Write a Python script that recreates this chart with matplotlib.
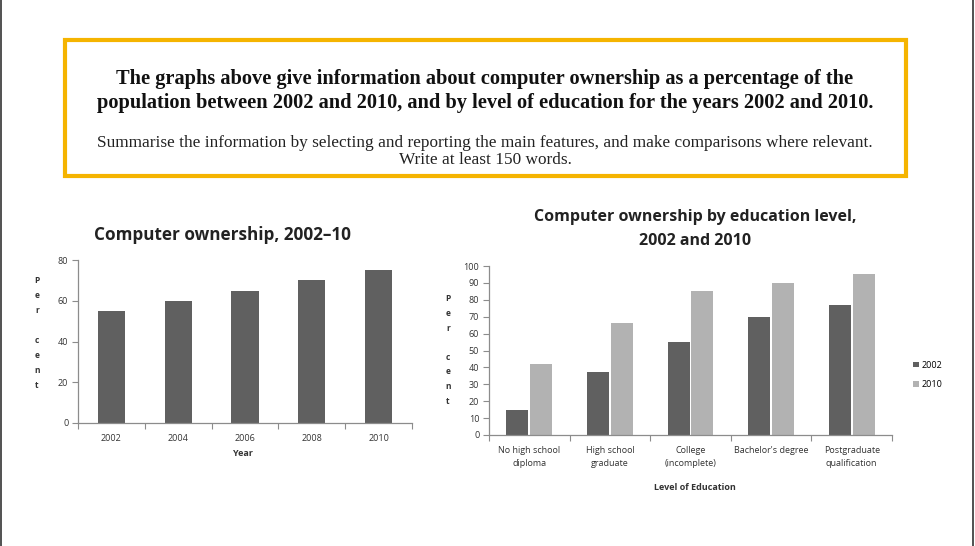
"""
Computer ownership charts (IELTS task sheet)
"""

import matplotlib.pyplot as plt
from matplotlib.patches import Rectangle
import numpy as np

years = ["2002", "2004", "2006", "2008", "2010"]
ownership = [55, 60, 65, 70, 75]

education_levels = [
    "No high school\ndiploma",
    "High school\ngraduate",
    "College\n(incomplete)",
    "Bachelor's degree",
    "Postgraduate\nqualification",
]
owners_2002 = [15, 37, 55, 70, 77]
owners_2010 = [42, 66, 85, 90, 95]

DARK = "#606060"
LIGHT = "#b2b2b2"
AXIS = "#8c8c8c"
TEXT = "#333333"
SANS = ["Open Sans", "DejaVu Sans"]
SERIF = ["Liberation Serif", "DejaVu Serif"]

W, H = 975, 546
fig = plt.figure(figsize=(W / 100, H / 100), dpi=100)
fig.patch.set_facecolor("white")


def fx(px):
    return px / W


def fy(py):
    return 1 - py / H


# task box
fig.patches.append(
    Rectangle((fx(65), fy(176)), fx(906) - fx(65), fy(40) - fy(176),
              transform=fig.transFigure, fill=False, edgecolor="#f5b400", linewidth=3)
)
fig.text(fx(485), fy(91),
         "The graphs above give information about computer ownership as a percentage of the\n"
         "population between 2002 and 2010, and by level of education for the years 2002 and 2010.",
         ha="center", va="center", fontsize=14.7, fontweight="bold", family=SERIF,
         color="#111111", linespacing=1.22)
fig.text(fx(485), fy(151.5),
         "Summarise the information by selecting and reporting the main features, and make comparisons where relevant.\n"
         "Write at least 150 words.",
         ha="center", va="center", fontsize=12.4, family=SERIF, color="#222222", linespacing=1.05)


def style_axes(ax):
    for side in ["top", "right"]:
        ax.spines[side].set_visible(False)
    for side in ["left", "bottom"]:
        ax.spines[side].set_color(AXIS)
        ax.spines[side].set_linewidth(0.9)
    ax.tick_params(axis="y", colors=AXIS, length=4, width=0.8, labelsize=6.5,
                   labelcolor=TEXT, pad=3)
    ax.tick_params(axis="x", which="major", length=0, labelsize=6.5, labelcolor=TEXT, pad=8)
    ax.tick_params(axis="x", which="minor", colors=AXIS, length=4, width=0.8)
    for lbl in ax.get_yticklabels() + ax.get_xticklabels():
        lbl.set_family(SANS)
        lbl.set_linespacing(1.6)


# left chart
ax1 = fig.add_axes([fx(78), fy(423), fx(412) - fx(78), fy(260) - fy(423)])
x1 = np.arange(len(years))
ax1.bar(x1, ownership, width=0.41, color=DARK)
ax1.set_xlim(-0.5, len(years) - 0.5)
ax1.set_ylim(0, 80)
ax1.set_yticks([0, 20, 40, 60, 80])
ax1.set_xticks(x1)
ax1.set_xticklabels(years)
ax1.set_xticks(np.arange(len(years) + 1) - 0.5, minor=True)
style_axes(ax1)
fig.text(fx(223), fy(235), "Computer ownership, 2002\u201310", ha="center", va="center",
         fontsize=12.3, fontweight="bold", family=SANS, color="#222222")
fig.text(fx(243), fy(453), "Year", ha="center", va="center", fontsize=6.5,
         fontweight="bold", family=SANS, color=TEXT)
fig.text(fx(37), fy(333), "P\ne\nr\n\nc\ne\nn\nt", ha="center", va="center", fontsize=6,
         fontweight="bold", family=SANS, color=TEXT, linespacing=1.85)

# right chart
ax2 = fig.add_axes([fx(489), fy(435), fx(892) - fx(489), fy(266) - fy(435)])
x2 = np.arange(len(education_levels))
bw = 0.275
ax2.bar(x2 - bw / 2 - 0.01, owners_2002, width=bw, color=DARK, label="2002")
ax2.bar(x2 + bw / 2 + 0.01, owners_2010, width=bw, color=LIGHT, label="2010")
ax2.set_xlim(-0.5, len(education_levels) - 0.5)
ax2.set_ylim(0, 100)
ax2.set_yticks(range(0, 101, 10))
ax2.set_xticks(x2)
ax2.set_xticklabels(education_levels)
ax2.set_xticks(np.arange(len(education_levels) + 1) - 0.5, minor=True)
style_axes(ax2)
ax2.legend(loc="center left", bbox_to_anchor=(fx(905), fy(375)),
           bbox_transform=fig.transFigure, frameon=False,
           handlelength=0.6, handleheight=0.6, handletextpad=0.3, labelspacing=1.2,
           prop={"family": SANS, "size": 6.5})
fig.text(fx(695), fy(229), "Computer ownership by education level,\n2002 and 2010",
         ha="center", va="center", fontsize=11.5, fontweight="bold", family=SANS,
         color="#222222", linespacing=1.6)
fig.text(fx(695), fy(487), "Level of Education", ha="center", va="center", fontsize=6.5,
         fontweight="bold", family=SANS, color=TEXT)
fig.text(fx(448), fy(350), "P\ne\nr\n\nc\ne\nn\nt", ha="center", va="center", fontsize=6,
         fontweight="bold", family=SANS, color=TEXT, linespacing=1.8)

# frame edges of the screenshot
fig.add_artist(plt.Line2D([fx(0.8), fx(0.8)], [0, 1], transform=fig.transFigure,
                          color="#333333", linewidth=1.2))
fig.add_artist(plt.Line2D([fx(973), fx(973)], [0, 1], transform=fig.transFigure,
                          color="#333333", linewidth=1.2))

fig.savefig("out.png", dpi=100)
